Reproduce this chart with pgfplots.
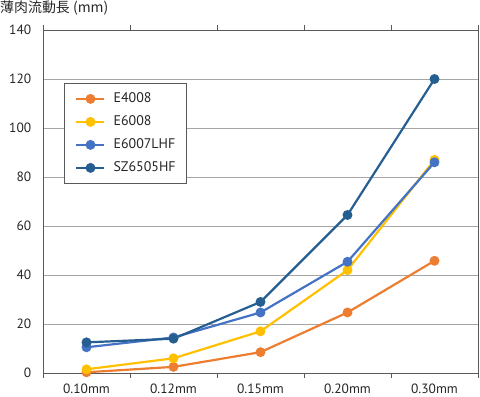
\documentclass[border=0pt]{standalone}
\usepackage{pgfplots}
\pgfplotsset{compat=1.18}
\usepackage{fontspec}
\setmainfont{PT Sans}
\newfontfamily\cjk{Noto Sans CJK JP}
\definecolor{cA}{HTML}{ED7D31}
\definecolor{cB}{HTML}{FFC000}
\definecolor{cC}{HTML}{4472C4}
\definecolor{cD}{HTML}{255E91}
\definecolor{gridc}{HTML}{A6A6A6}
\definecolor{axc}{HTML}{595959}
\begin{document}
\begin{tikzpicture}[x=1bp,y=1bp]
\begin{axis}[
  name=ax,
  scale only axis,
  width=435bp, height=343bp,
  xmin=0.5, xmax=5.5, ymin=0, ymax=140,
  xtick={1,2,3,4,5},
  xticklabels={0.10mm,0.12mm,0.15mm,0.20mm,0.30mm},
  minor xtick={0.5,1.5,2.5,3.5,4.5,5.5},
  major x tick style={draw=none},
  minor x tick style={draw=axc, line width=0.8pt},
  tick align=outside,
  minor tick length=5bp,
  ytick={0,20,...,140},
  y tick style={draw=none},
  ymajorgrids,
  grid style={gridc, line width=0.8pt},
  axis line style={draw=axc, line width=0.8pt},
  tick label style={font=\fontsize{13.5}{14}\selectfont, text=black!85},
  /pgf/number format/assume math mode=true,
  yticklabel style={xshift=-4bp},
  xticklabel style={inner sep=0pt, yshift=-6bp},
  legend style={at={(rel axis cs:0,1)}, anchor=north west, xshift=21bp, yshift=-53bp,
    draw=axc, line width=0.8pt, font=\fontsize{14}{15}\selectfont,
    nodes={inner sep=0pt, text height=10bp, text depth=3bp},
    inner xsep=11bp, inner ysep=9bp, row sep=10bp, column sep=8bp, text=black!85},
  legend cell align=left,
  legend image code/.code={
    \draw[#1, line width=2.2pt] (0bp,0bp) -- (28bp,0bp);
    \fill[#1] (14bp,0bp) circle (3.8bp);
  },
  every axis plot/.append style={line width=2.2pt, mark=*, mark size=3.8bp},
]
\addplot[cA, mark options={fill=cA, draw=cA}] coordinates {(1,0.3) (2,2.5) (3,8.5) (4,24.7) (5,45.8)};
\addplot[cB, mark options={fill=cB, draw=cB}] coordinates {(1,1.5) (2,6) (3,17) (4,42) (5,87)};
\addplot[cC, mark options={fill=cC, draw=cC}] coordinates {(1,10.5) (2,14.5) (3,24.7) (4,45.4) (5,86)};
\addplot[cD, mark options={fill=cD, draw=cD}] coordinates {(1,12.5) (2,14) (3,29) (4,64.5) (5,120)};
\legend{E4008,E6008,E6007LHF,SZ6505HF}
\end{axis}
\node[anchor=north west, inner sep=0pt, font=\cjk\fontsize{14}{15}\selectfont, text=black!85] at ([xshift=-43bp, yshift=29bp]ax.north west) {薄肉流動長 (mm)};
\pgfresetboundingbox
\path[use as bounding box] ([xshift=-43bp, yshift=-24bp]ax.south west) rectangle ([xshift=2bp, yshift=30bp]ax.north east);
\end{tikzpicture}
\end{document}
